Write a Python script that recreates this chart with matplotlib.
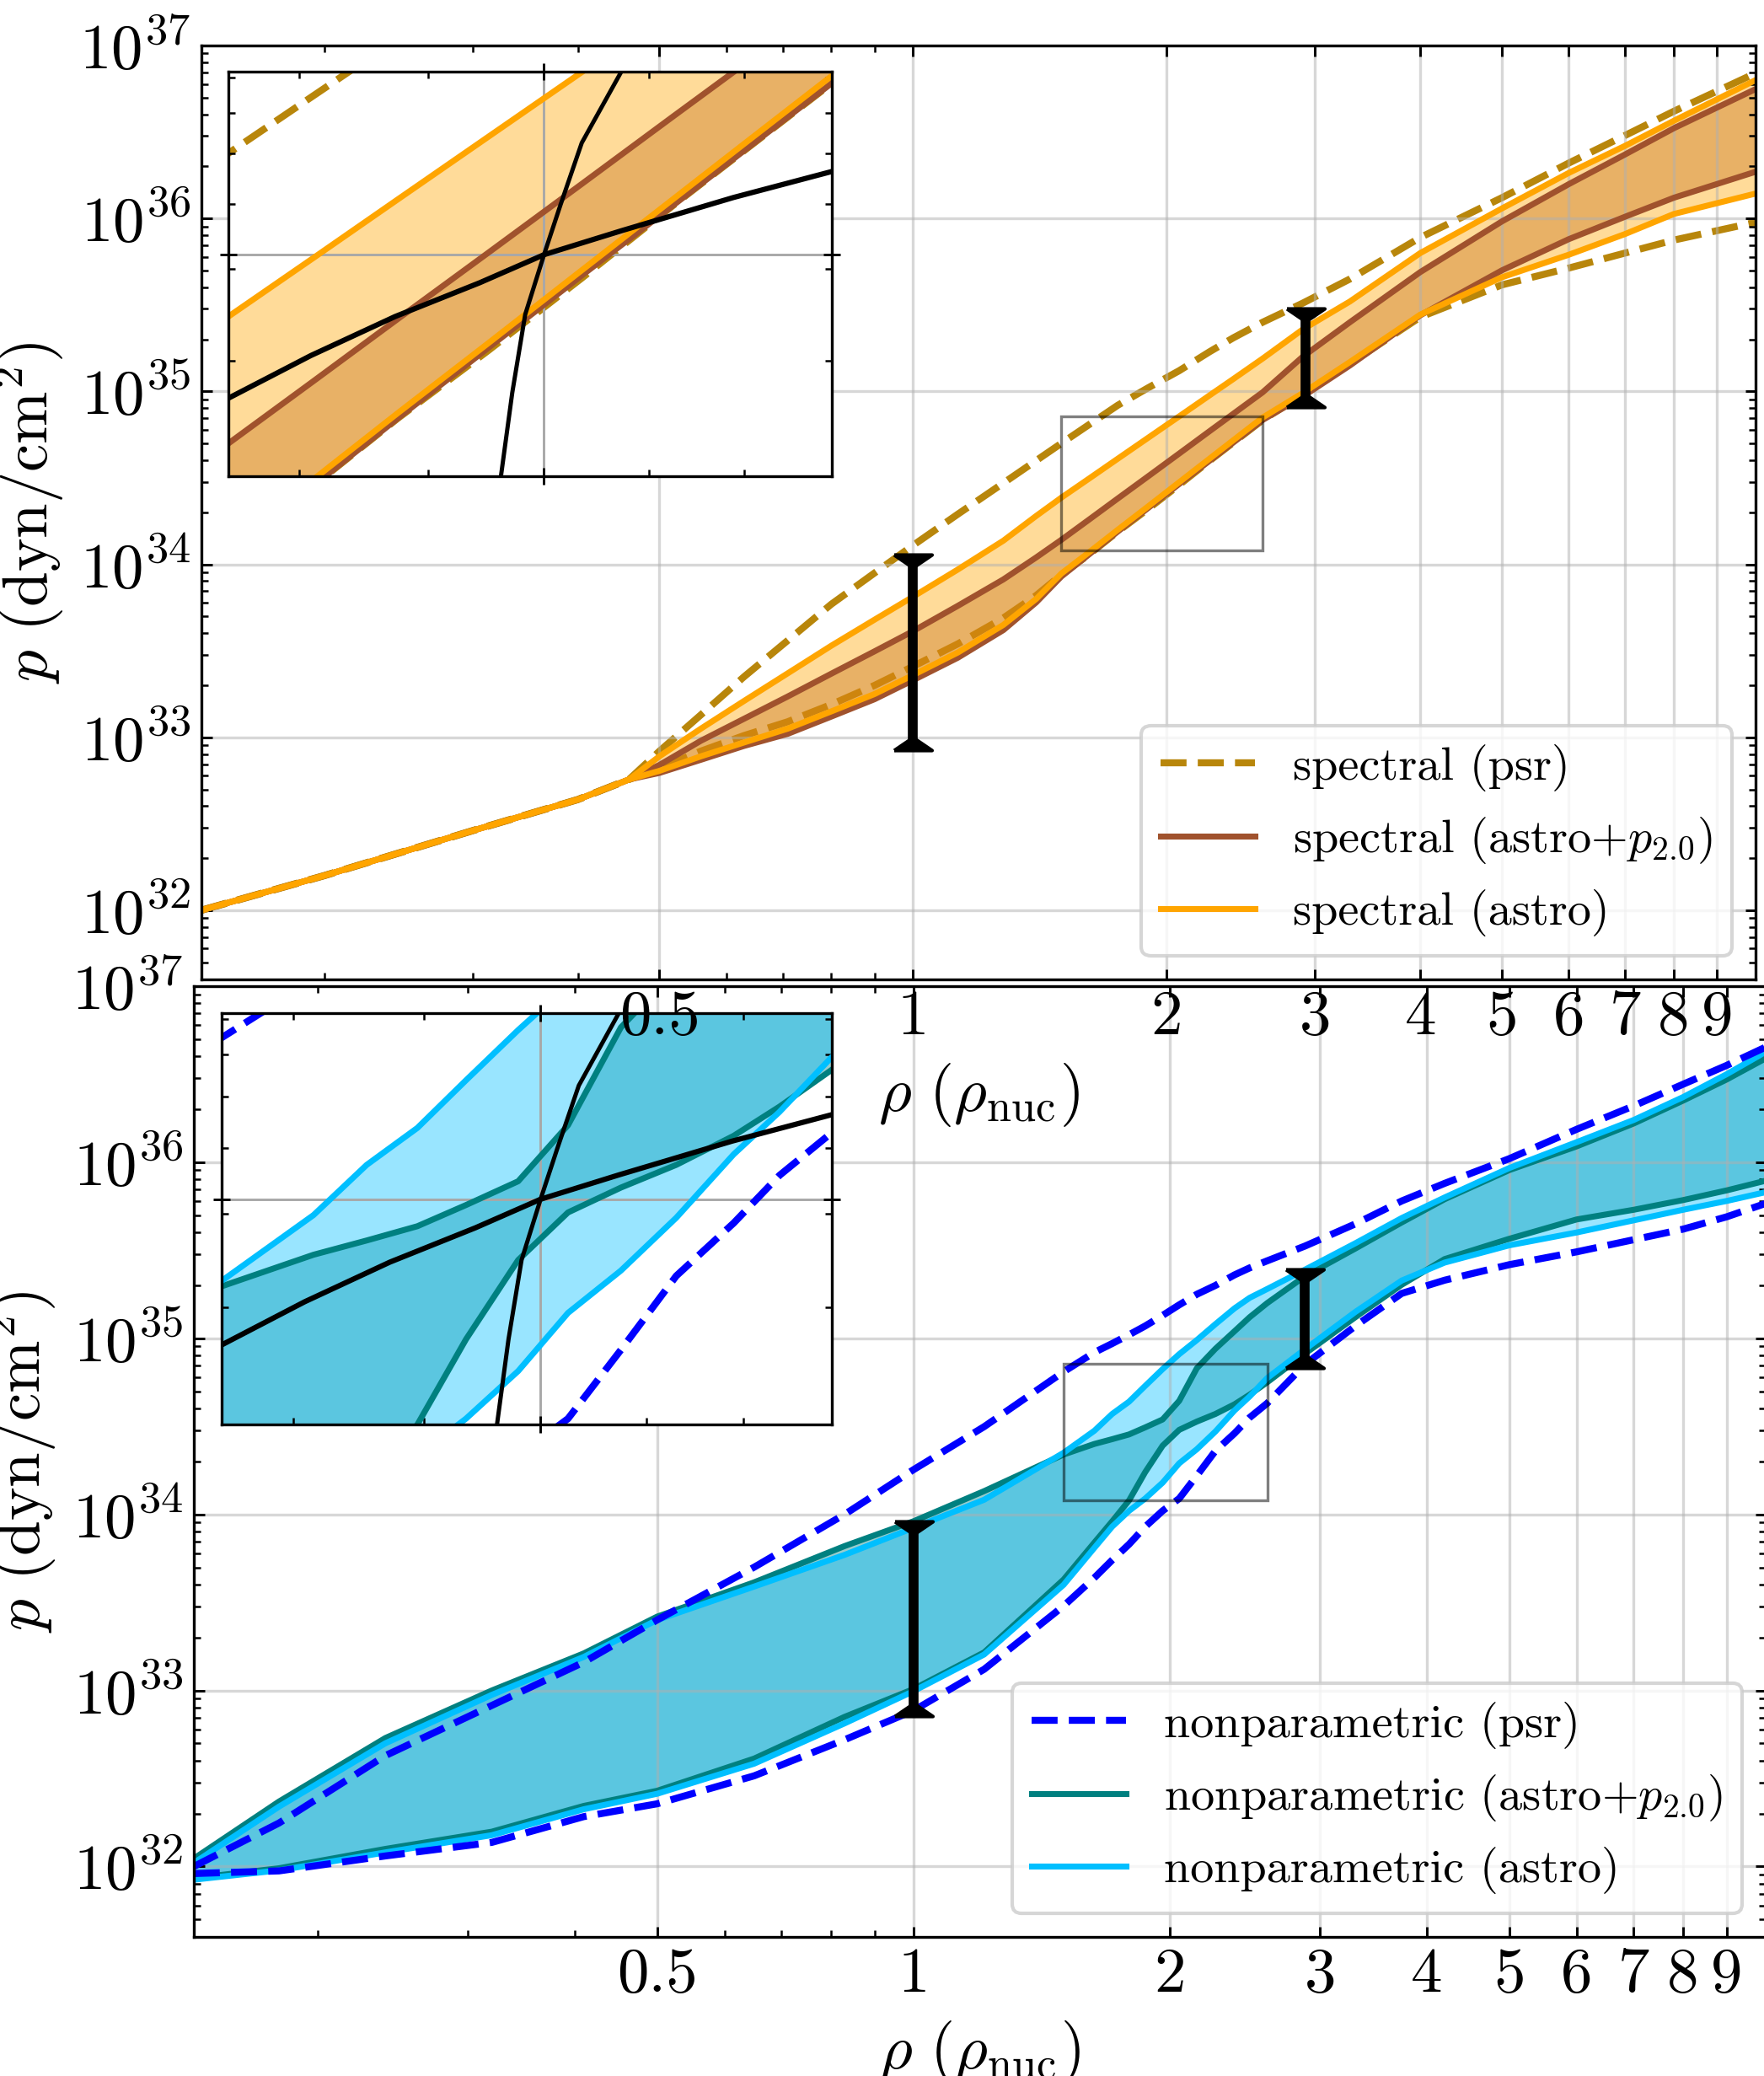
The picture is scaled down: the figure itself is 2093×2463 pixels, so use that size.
import numpy as np
import matplotlib
matplotlib.use("Agg")
import matplotlib.pyplot as plt
from matplotlib.patches import Rectangle
from matplotlib.ticker import NullFormatter

plt.rcParams['font.family'] = 'cmr10'
plt.rcParams['mathtext.fontset'] = 'cm'
plt.rcParams['axes.formatter.use_mathtext'] = True

# ---- dane: panel gorny (spectral) ----
rho_spec = [0.143, 0.2, 0.3, 0.4, 0.46, 0.5, 0.56, 0.63, 0.71, 0.8, 0.9, 1.0,
            1.13, 1.28, 1.4, 1.5, 1.62, 1.75, 1.9, 2.07, 2.25, 2.4, 2.6, 2.9,
            3.3, 4.0, 5.0, 6.0, 7.0, 8.0, 10.0]
# log10 p [dyn/cm^2]; pierwsze 5 punktow wspolne (skorupa)
crust_spec = [32.0, 32.2, 32.46, 32.64, 32.756]
spec_psr_hi = crust_spec + [32.92, 33.13, 33.35, 33.56, 33.77, 33.95, 34.11, 34.29, 34.47,
                            34.60, 34.70, 34.81, 34.92, 35.02, 35.12, 35.23, 35.31, 35.40,
                            35.51, 35.65, 35.89, 36.12, 36.32, 36.48, 36.62, 36.84]
spec_psr_lo = crust_spec + [32.82, 32.92, 33.01, 33.09, 33.19, 33.30, 33.41, 33.54, 33.69,
                            33.82, 33.94, 34.06, 34.19, 34.32, 34.46, 34.60, 34.705, 34.835,
                            34.98, 35.16, 35.43, 35.616, 35.713, 35.80, 35.875, 35.978]
spec_p2_hi = crust_spec + [32.84, 32.98, 33.107, 33.236, 33.368, 33.497, 33.614, 33.76, 33.913,
                           34.04, 34.142, 34.261, 34.381, 34.508, 34.641, 34.771, 34.871, 34.995,
                           35.20, 35.40, 35.69, 35.983, 36.198, 36.37, 36.522, 36.748]
spec_p2_lo = crust_spec + [32.794, 32.87, 32.95, 33.02, 33.12, 33.22, 33.33, 33.46, 33.62,
                           33.78, 33.93, 34.06, 34.19, 34.325, 34.465, 34.60, 34.705, 34.835,
                           34.97, 35.15, 35.44, 35.70, 35.88, 36.01, 36.12, 36.27]
spec_astro_hi = crust_spec + [32.89, 33.05, 33.21, 33.37, 33.53, 33.68, 33.813, 33.97, 34.137,
                              34.28, 34.386, 34.498, 34.611, 34.731, 34.856, 34.978, 35.072, 35.19,
                              35.358, 35.52, 35.80, 36.058, 36.263, 36.42, 36.565, 36.80]
spec_astro_lo = crust_spec + [32.806, 32.89, 32.97, 33.05, 33.15, 33.25, 33.36, 33.49, 33.65,
                              33.80, 33.947, 34.072, 34.20, 34.334, 34.475, 34.612, 34.718, 34.849,
                              34.99, 35.17, 35.444, 35.66, 35.79, 35.91, 36.026, 36.144]
bars_spec_rho = [1.0, 2.92]
bars_spec_lo = [32.926, 34.909]
bars_spec_hi = [34.057, 35.48]

# ---- dane: panel dolny (nonparametric) ----
rho_np = [0.143, 0.18, 0.24, 0.32, 0.41, 0.5, 0.65, 0.83, 1.0, 1.21, 1.5, 1.63, 1.71,
          1.79, 1.87, 1.96, 2.05, 2.15, 2.26, 2.38, 2.48, 2.6, 2.88, 3.3, 3.74, 4.2,
          5.0, 6.0, 7.0, 8.0, 9.0, 10.0]
np_psr_hi = [32.0, 32.247, 32.63, 32.915, 33.16, 33.40, 33.70, 34.00, 34.254, 34.498, 34.81,
             34.92, 34.97, 35.02, 35.07, 35.13, 35.19, 35.25, 35.30, 35.36, 35.40, 35.44,
             35.524, 35.65, 35.78, 35.88, 36.02, 36.187, 36.32, 36.443, 36.55, 36.654]
np_psr_lo = [31.96, 31.975, 32.06, 32.137, 32.283, 32.356, 32.515, 32.72, 32.886, 33.12, 33.48,
             33.64, 33.74, 33.83, 33.93, 34.02, 34.09, 34.22, 34.36, 34.46, 34.55, 34.631,
             34.852, 35.07, 35.255, 35.33, 35.418, 35.491, 35.56, 35.62, 35.69, 35.766]
np_p2_hi = [32.045, 32.369, 32.73, 33.00, 33.21, 33.419, 33.614, 33.82, 33.961, 34.132, 34.34,
            34.40, 34.427, 34.454, 34.494, 34.539, 34.645, 34.83, 34.94, 35.04, 35.12, 35.20,
            35.353, 35.51, 35.658, 35.79, 35.955, 36.09, 36.22, 36.35, 36.47, 36.59]
np_p2_lo = [31.934, 31.99, 32.10, 32.198, 32.344, 32.43, 32.613, 32.85, 33.008, 33.216, 33.63,
            33.84, 33.96, 34.079, 34.24, 34.39, 34.48, 34.527, 34.57, 34.625, 34.68, 34.75,
            34.913, 35.12, 35.304, 35.45, 35.565, 35.675, 35.73, 35.785, 35.84, 35.895]
np_astro_hi = [32.02, 32.34, 32.70, 32.975, 33.19, 33.40, 33.59, 33.77, 33.924, 34.083, 34.35,
               34.475, 34.57, 34.64, 34.73, 34.825, 34.91, 34.99, 35.08, 35.17, 35.23, 35.28,
               35.39, 35.54, 35.683, 35.80, 35.967, 36.114, 36.24, 36.37, 36.50, 36.627]
np_astro_lo = [31.925, 31.978, 32.08, 32.178, 32.325, 32.413, 32.584, 32.813, 32.996, 33.204, 33.60,
               33.81, 33.93, 34.02, 34.09, 34.18, 34.29, 34.37, 34.47, 34.59, 34.67, 34.774,
               34.938, 35.15, 35.328, 35.43, 35.528, 35.601, 35.67, 35.73, 35.78, 35.83]
bars_np_rho = [1.0, 2.88]
bars_np_lo = [32.852, 34.833]
bars_np_hi = [33.962, 35.392]

# ---- krzywe w wstawkach (wspolne) ----
steep_rho = [1.923, 1.943, 1.966, 2.0, 2.03, 2.07, 2.146]
steep_logp = [34.079, 34.24, 34.39, 34.505, 34.60, 34.72, 34.857]
shallow_rho = [1.5, 1.617, 1.746, 1.886, 2.0, 2.146, 2.377, 2.6]
shallow_logp = [34.229, 34.311, 34.386, 34.451, 34.505, 34.551, 34.615, 34.665]
inset_rho = (1.5, 2.6)
inset_logp = (34.079, 34.857)
rho_ref, logp_ref = 2.0, 34.505

xlim = (0.143, 10.0)
ylim = (10**31.6, 1e37)
xmaj = [0.5, 1, 2, 3, 4, 5, 6, 7, 8, 9]
xmaj_lab = ['0.5', '1', '2', '3', '4', '5', '6', '7', '8', '9']
xmin_t = [0.2, 0.3, 0.4, 0.6, 0.7, 0.8, 0.9]

LW = 1.7
LWD = 2.0
tri_top = [(-1, 0), (1, 0), (0, -0.68), (-1, 0)]
tri_bot = [(-1, 0), (1, 0), (0, 0.68), (-1, 0)]


def P(a):
    return 10 ** np.asarray(a)


def draw(ax, rho, psr, p2, astro, names, cols, psr_z):
    c_psr, c_p2, c_astro = cols
    ax.fill_between(rho, P(p2[1]), P(p2[0]), color=c_p2, alpha=0.4, lw=0, zorder=1.2)
    ax.fill_between(rho, P(astro[1]), P(astro[0]), color=c_astro, alpha=0.4, lw=0, zorder=1.3)
    h1, = ax.plot(rho, P(psr[0]), '--', color=c_psr, lw=LWD, label=names[0], zorder=psr_z)
    ax.plot(rho, P(psr[1]), '--', color=c_psr, lw=LWD, zorder=psr_z)
    h2, = ax.plot(rho, P(p2[0]), color=c_p2, lw=LW, label=names[1], zorder=2.2)
    ax.plot(rho, P(p2[1]), color=c_p2, lw=LW, zorder=2.2)
    h3, = ax.plot(rho, P(astro[0]), color=c_astro, lw=LW, label=names[2], zorder=2.3)
    ax.plot(rho, P(astro[1]), color=c_astro, lw=LW, zorder=2.3)
    return [h1, h2, h3]


def style_main(ax):
    ax.set_xscale('log')
    ax.set_yscale('log')
    ax.set_xlim(*xlim)
    ax.set_ylim(*ylim)
    ax.set_xticks(xmaj, xmaj_lab)
    ax.set_xticks(xmin_t, minor=True)
    ax.xaxis.set_minor_formatter(NullFormatter())
    ax.yaxis.set_minor_formatter(NullFormatter())
    ax.tick_params(which='both', direction='in', top=True, right=True, labelsize=18, pad=3)
    ax.tick_params(which='major', length=3, width=0.7)
    ax.tick_params(which='minor', length=2, width=0.6)
    ax.grid(True, which='major', color='#b0b0b0', alpha=0.5, lw=0.8)
    ax.set_xlabel(r'$\rho\ (\rho_{\mathrm{nuc}})$', fontsize=18)
    ax.set_ylabel(r'$p\ (\mathrm{dyn}/\mathrm{cm}^2)$', fontsize=18)
    for s in ax.spines.values():
        s.set_linewidth(0.8)


def style_inset(ax):
    ax.set_xscale('log')
    ax.set_yscale('log')
    ax.set_xlim(*inset_rho)
    ax.set_ylim(*P(inset_logp))
    ax.set_xticks([rho_ref])
    ax.set_xticks([1.6, 1.8, 2.2, 2.4, 2.6], minor=True)
    ax.set_yticks([10 ** logp_ref])
    ax.set_yticks([2e34, 3e34, 4e34, 5e34, 6e34, 7e34], minor=True)
    for a in (ax.xaxis, ax.yaxis):
        a.set_major_formatter(NullFormatter())
        a.set_minor_formatter(NullFormatter())
    ax.tick_params(which='both', top=True, right=True)
    ax.tick_params(which='major', direction='inout', length=5, width=0.7)
    ax.tick_params(which='minor', direction='in', length=2, width=0.6)
    ax.grid(True, which='major', color='#a8a8a8', lw=0.7)
    ax.plot(steep_rho, P(steep_logp), color='k', lw=1.2, zorder=3)
    ax.plot(shallow_rho, P(shallow_logp), color='k', lw=1.5, zorder=3)
    for s in ax.spines.values():
        s.set_linewidth(0.8)


def bars(ax, xs, lo, hi):
    for x, a, b in zip(xs, lo, hi):
        ax.plot([x, x], [10 ** a, 10 ** b], color='k', lw=2.8, solid_capstyle='butt', zorder=6)
        ax.plot([x], [10 ** b], marker=tri_top, ms=10.8, color='k', lw=0, zorder=6)
        ax.plot([x], [10 ** a], marker=tri_bot, ms=10.8, color='k', lw=0, zorder=6)


fig = plt.figure(figsize=(2093 / 300, 2463 / 300), dpi=300)
W, H = 2093.0, 2463.0
ax_bot = fig.add_axes([230 / W, (H - 2298) / H, 1865 / W, 1128 / H], zorder=1)
ins_bot = fig.add_axes([262.5 / W, (H - 1690) / H, 724.5 / W, 488 / H], zorder=2)
ax_top = fig.add_axes([239 / W, (H - 1162) / H, 1844 / W, 1108 / H], zorder=3)
ins_top = fig.add_axes([271 / W, (H - 565) / H, 716 / W, 480 / H], zorder=4)

spec_cols = ('darkgoldenrod', 'sienna', 'orange')
spec_names = ['spectral (psr)', 'spectral (astro+$p_{2.0}$)', 'spectral (astro)']
np_cols = ('blue', 'teal', 'deepskyblue')
np_names = ['nonparametric (psr)', 'nonparametric (astro+$p_{2.0}$)', 'nonparametric (astro)']

# Panel gorny
hs = draw(ax_top, rho_spec, (spec_psr_hi, spec_psr_lo), (spec_p2_hi, spec_p2_lo),
          (spec_astro_hi, spec_astro_lo), spec_names, spec_cols, 1.1)
style_main(ax_top)
bars(ax_top, bars_spec_rho, bars_spec_lo, bars_spec_hi)
ax_top.legend(handles=hs, loc='lower right', fontsize=13.5)
draw(ins_top, rho_spec, (spec_psr_hi, spec_psr_lo), (spec_p2_hi, spec_p2_lo),
     (spec_astro_hi, spec_astro_lo), spec_names, spec_cols, 1.1)
style_inset(ins_top)

# Panel dolny
hn = draw(ax_bot, rho_np, (np_psr_hi, np_psr_lo), (np_p2_hi, np_p2_lo),
          (np_astro_hi, np_astro_lo), np_names, np_cols, 2.4)
style_main(ax_bot)
bars(ax_bot, bars_np_rho, bars_np_lo, bars_np_hi)
ax_bot.legend(handles=hn, loc='lower right', fontsize=13.5)
draw(ins_bot, rho_np, (np_psr_hi, np_psr_lo), (np_p2_hi, np_p2_lo),
     (np_astro_hi, np_astro_lo), np_names, np_cols, 2.4)
style_inset(ins_bot)

# Prostokat obszaru powiekszenia
for ax in (ax_top, ax_bot):
    lo_p, hi_p = P(inset_logp)
    ax.add_patch(Rectangle((inset_rho[0], lo_p), inset_rho[1] - inset_rho[0], hi_p - lo_p,
                           fill=False, edgecolor='k', alpha=0.5, lw=0.8, zorder=4))

fig.savefig('out.png', dpi=300)
